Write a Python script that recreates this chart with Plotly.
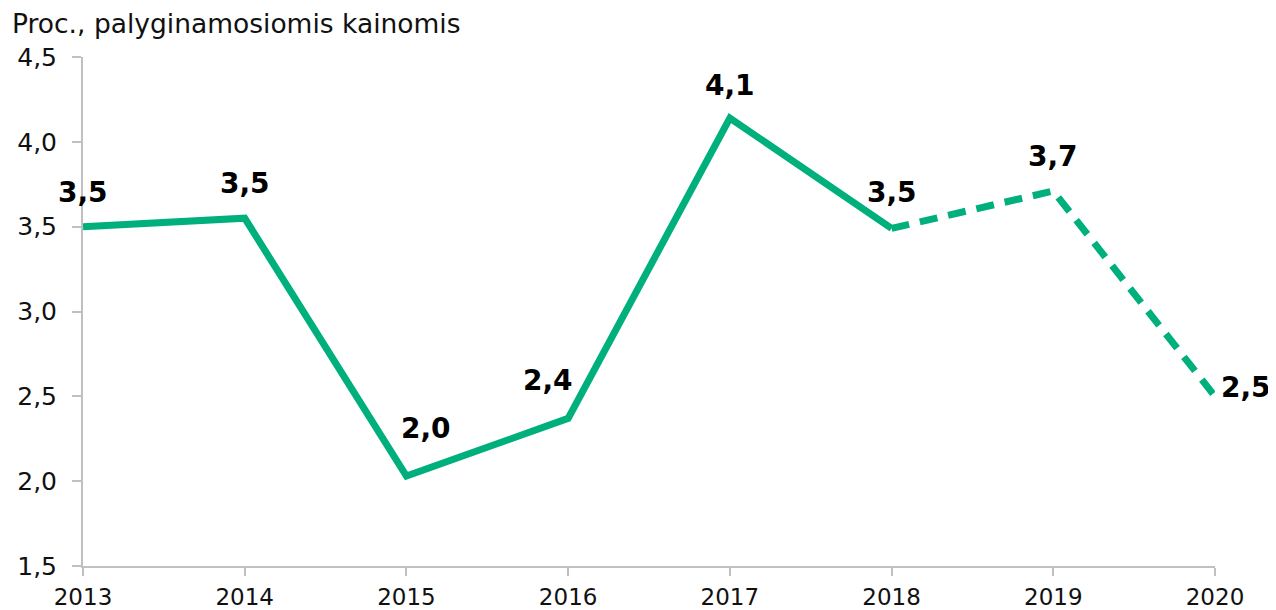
import plotly.graph_objects as go

# ---- data ----
years = [2013, 2014, 2015, 2016, 2017, 2018, 2019, 2020]
values = [3.50, 3.55, 2.03, 2.37, 4.14, 3.49, 3.71, 2.50]
forecast_start = 2018  # dashed from this year on
y_ticks = [1.5, 2.0, 2.5, 3.0, 3.5, 4.0, 4.5]
title_text = "Proc., palyginamosiomis kainomis"

# label offsets (style): (xshift, yshift) in px
label_shifts = [(0, 34), (0, 35), (20, 48), (-20, 38), (0, 33), (0, 36), (0, 35), (31, 9)]

GREEN = "#00B07C"
GRAY = "#C0C0C0"
FONT = "DejaVu Sans"
TXT = "#111111"

# page body has an 8px margin; compensate so the plot lands where the reference has it
W, H = 1268, 602


def fmt(v):
    return f"{v:.1f}".replace(".", ",")


i0 = years.index(forecast_start)

fig = go.Figure()
fig.add_trace(go.Scatter(
    x=years[: i0 + 1], y=values[: i0 + 1], mode="lines",
    line=dict(color=GREEN, width=7), hoverinfo="skip", showlegend=False,
))
fig.add_trace(go.Scatter(
    x=years[i0:], y=values[i0:], mode="lines",
    line=dict(color=GREEN, width=7, dash="18px,11px"), hoverinfo="skip", showlegend=False,
))

for yr, v, (dx, dy) in zip(years, values, label_shifts):
    fig.add_annotation(
        x=yr, y=v, xref="x", yref="y", text=fmt(v), showarrow=False,
        xanchor="center", yanchor="middle", xshift=dx, yshift=dy,
        font=dict(family=FONT, size=28, color="black", weight="bold"),
    )

fig.update_layout(
    width=W, height=H,
    margin=dict(l=75, r=61, t=49, b=44, pad=0),
    paper_bgcolor="white", plot_bgcolor="white",
    font=dict(family=FONT, size=22, color=TXT),
    title=dict(
        text=title_text, x=4 / W, xref="container", xanchor="left",
        y=1 - 15.5 / H, yref="container", yanchor="middle",
        font=dict(family=FONT, size=26.5, color=TXT),
    ),
)
fig.update_xaxes(
    range=[years[0], years[-1]], tickvals=years, ticktext=[str(y) for y in years],
    showline=True, linecolor=GRAY, linewidth=2, ticks="outside", ticklen=8,
    tickcolor=GRAY, tickwidth=2, showgrid=False, zeroline=False, automargin=False,
    ticklabelstandoff=1,
    tickfont=dict(family=FONT, size=23, color=TXT),
)
fig.update_yaxes(
    range=[y_ticks[0], y_ticks[-1]], tickvals=y_ticks, ticktext=[fmt(t) for t in y_ticks],
    showline=True, linecolor=GRAY, linewidth=2, ticks="outside", ticklen=9,
    tickcolor=GRAY, tickwidth=2, showgrid=False, zeroline=False, automargin=False,
    ticklabelstandoff=10,
    tickfont=dict(family=FONT, size=25, color=TXT),
)

fig.write_html("out.html")
